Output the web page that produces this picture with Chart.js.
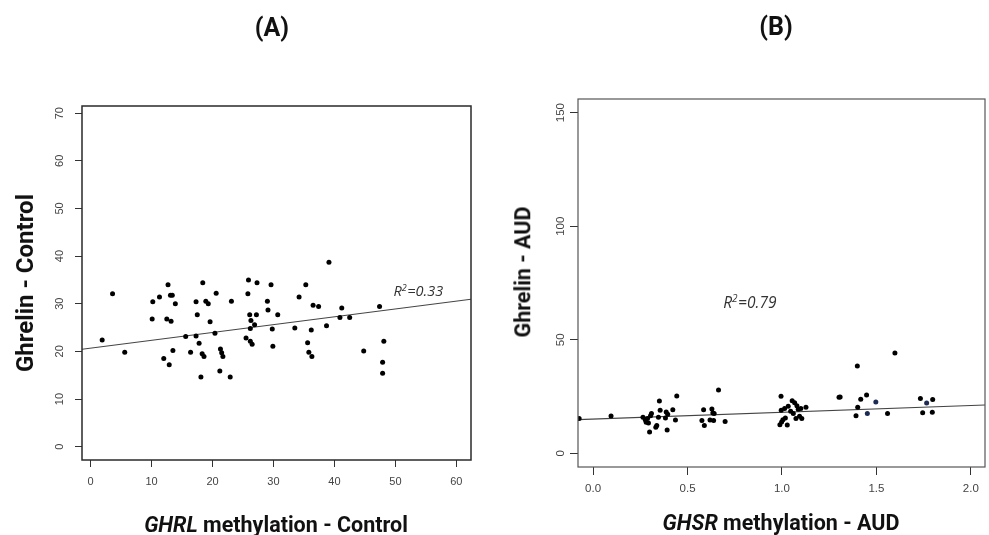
<!DOCTYPE html>
<html>
<head>
<meta charset="utf-8">
<script src="https://cdn.jsdelivr.net/npm/chart.js@4.4.1/dist/chart.umd.min.js"></script>
<style>
  body { margin: 0; background: #fff; }
  #fig { position: relative; width: 989px; height: 535px; overflow: hidden; font-family: Roboto, "Noto Sans", sans-serif; color: #111; }
  #fig canvas { position: absolute; top: 0; }
  .lbl { position: absolute; white-space: nowrap; font-weight: 700; line-height: 1; transform: translate(-50%, -50%); }
  .panel { font-size: 25px; }
  .axis { font-size: 21.5px; }
  .vert { transform: translate(-50%, -50%) rotate(-90deg); }
</style>
</head>
<body>
<div id="fig">
  <canvas id="chartA" width="494" height="535" style="left:0"></canvas>
  <canvas id="chartB" width="495" height="535" style="left:494px"></canvas>
  <div class="lbl panel" style="left:272px;top:27px">(A)</div>
  <div class="lbl panel" style="left:776px;top:26px">(B)</div>
  <div class="lbl axis" style="left:276px;top:525px"><i>GHRL</i> methylation - Control</div>
  <div class="lbl axis" style="left:781px;top:523px"><i>GHSR</i> methylation - AUD</div>
  <div class="lbl axis vert" style="left:25px;top:283px;font-size:24px">Ghrelin - Control</div>
  <div class="lbl axis vert" style="left:523px;top:272px">Ghrelin - AUD</div>
</div>
<script>
// (A) controls: GHRL methylation vs ghrelin
const ghrlMethControl = [1.9, 3.6, 5.6, 10.2, 10.1, 11.3, 12.0, 12.7, 12.5, 12.9, 13.1, 13.4, 13.2, 13.5, 13.9,
  15.6, 16.4, 17.3, 17.3, 17.5, 17.8, 18.1, 18.4, 18.3, 18.6, 18.9, 19.3, 19.6, 20.4, 20.6, 21.2, 21.3, 21.5,
  21.7, 22.9, 23.1, 25.5, 25.8, 25.9, 26.1, 26.2, 26.2, 26.3, 26.5, 26.9, 27.2, 27.3, 29.0, 29.1, 29.6, 29.8,
  29.9, 30.7, 33.5, 34.2, 35.3, 35.6, 35.8, 36.2, 36.3, 36.5, 37.4, 38.7, 39.1, 40.9, 41.2, 42.5, 44.8, 47.4,
  47.9, 47.9, 48.1];
const ghrelinControl = [22.4, 32.1, 19.8, 30.4, 26.8, 31.4, 18.5, 34.0, 26.8, 17.2, 31.8, 31.8, 26.3, 20.2, 30.0,
  23.1, 19.8, 30.4, 23.2, 27.7, 21.7, 14.6, 34.4, 19.5, 18.9, 30.5, 30.0, 26.2, 23.8, 32.2, 15.9, 20.5, 19.7,
  18.9, 14.6, 30.5, 22.8, 32.1, 35.0, 27.7, 24.8, 22.1, 26.5, 21.5, 25.6, 27.7, 34.4, 30.5, 28.7, 34.0, 24.7,
  21.1, 27.7, 24.9, 31.4, 34.0, 21.8, 19.8, 24.5, 18.9, 29.7, 29.4, 25.4, 38.7, 27.1, 29.1, 27.1, 20.1, 29.4,
  17.7, 15.4, 22.1];
const fitXControl = [-1.41, 62.4];
const fitYControl = [20.45, 30.94];
const xTicksControl = [0, 10, 20, 30, 40, 50, 60];
const yTicksControl = [0, 10, 20, 30, 40, 50, 60, 70];

// (B) AUD: GHSR methylation vs ghrelin
const ghsrMethAUD = [-0.074, 0.095, 0.264, 0.276, 0.281, 0.288, 0.293, 0.299, 0.304, 0.309, 0.332, 0.337, 0.346,
  0.351, 0.355, 0.383, 0.387, 0.392, 0.395, 0.422, 0.436, 0.443, 0.576, 0.585, 0.589, 0.619, 0.629, 0.634,
  0.638, 0.641, 0.664, 0.699, 0.989, 0.995, 0.996, 0.998, 1.005, 1.014, 1.018, 1.028, 1.033, 1.046, 1.054,
  1.060, 1.067, 1.074, 1.079, 1.086, 1.093, 1.100, 1.105, 1.127, 1.302, 1.308, 1.392, 1.399, 1.401, 1.417,
  1.448, 1.559, 1.598, 1.733, 1.745, 1.796, 1.798];
const ghrelinAUD = [15.3, 16.5, 15.9, 14.8, 13.7, 15.4, 13.4, 9.4, 16.6, 17.5, 11.5, 12.3, 15.9,
  23.1, 19.0, 15.6, 18.2, 10.3, 17.2, 19.2, 14.7, 25.3, 14.5, 19.2, 12.3, 14.7, 19.5, 17.8,
  14.5, 17.5, 27.9, 14.0, 12.6, 25.1, 19.0, 13.8, 14.8, 19.7, 15.6, 12.5, 20.7, 18.5, 23.2,
  17.5, 22.3, 15.4, 21.0, 19.4, 16.3, 19.7, 15.3, 20.3, 24.7, 24.8, 16.6, 38.5, 20.3, 23.8,
  25.7, 17.5, 44.2, 24.2, 17.9, 18.1, 23.7];
// three subjects plotted in navy
const ghsrMethAUDNavy = [1.452, 1.497, 1.766];
const ghrelinAUDNavy = [17.5, 22.6, 22.2];
const fitXAUD = [-0.08, 2.075];
const fitYAUD = [14.85, 21.3];
const xTicksAUD = [0, 0.5, 1.0, 1.5, 2.0];
const yTicksAUD = [0, 50, 100, 150];

const pts = (xs, ys) => xs.map((x, i) => ({ x: x, y: ys[i] }));

// frame around the plotting region plus the R² note
const framePlugin = {
  id: 'frame',
  afterDraw(chart, args, opts) {
    const { ctx, chartArea: a, scales } = chart;
    ctx.save();
    ctx.strokeStyle = opts.color;
    ctx.lineWidth = opts.width;
    ctx.strokeRect(a.left, a.top, a.right - a.left, a.bottom - a.top);
    const px = scales.x.getPixelForValue(opts.noteX);
    const py = scales.y.getPixelForValue(opts.noteY);
    ctx.fillStyle = '#333';
    ctx.textBaseline = 'alphabetic';
    ctx.font = 'italic ' + opts.noteSize + 'px "Open Sans"';
    ctx.fillText('R', px, py);
    let w = ctx.measureText('R').width;
    ctx.font = 'italic ' + Math.round(opts.noteSize * 0.62) + 'px "Open Sans"';
    ctx.fillText('2', px + w, py - opts.noteSize * 0.38);
    w += ctx.measureText('2').width + 0.5;
    ctx.font = 'italic ' + opts.noteSize + 'px "Open Sans"';
    ctx.fillText('=' + opts.noteText, px + w, py);
    ctx.restore();
  }
};

function makeChart(id, cfg) {
  const tickFont = { family: '"Liberation Sans", Arial, sans-serif', size: cfg.tickSize };
  const datasets = [
    { type: 'line', data: pts(cfg.fitX, cfg.fitY), borderColor: '#444', borderWidth: 1.1,
      pointRadius: 0, fill: false, order: 2 },
    { data: pts(cfg.x, cfg.y), backgroundColor: '#000', borderWidth: 0, pointRadius: 2.5, order: 1 }
  ];
  if (cfg.navyX) {
    datasets.push({ data: pts(cfg.navyX, cfg.navyY), backgroundColor: '#1c2b55', borderWidth: 0,
      pointRadius: 2.5, order: 0 });
  }
  return new Chart(document.getElementById(id), {
    type: 'scatter',
    data: { datasets: datasets },
    options: {
      responsive: false,
      animation: false,
      events: [],
      layout: { padding: { left: 0, top: cfg.area.top, right: cfg.area.right, bottom: 0 } },
      plugins: {
        legend: { display: false },
        tooltip: { enabled: false },
        frame: { color: cfg.frameColor, width: cfg.frameWidth, noteX: cfg.noteX, noteY: cfg.noteY,
          noteText: cfg.noteText, noteSize: cfg.noteSize }
      },
      scales: {
        x: {
          type: 'linear', min: cfg.xMin, max: cfg.xMax,
          afterBuildTicks: s => { s.ticks = cfg.xTicks.map(v => ({ value: v })); },
          afterFit: s => { s.height = cfg.area.xAxisH; },
          border: { display: false },
          grid: { drawOnChartArea: false, drawTicks: true, tickLength: cfg.tickLen, tickColor: '#333' },
          ticks: { font: tickFont, color: '#444', padding: cfg.xPad, maxRotation: 0,
            callback: v => cfg.xFmt(v) }
        },
        y: {
          type: 'linear', min: cfg.yMin, max: cfg.yMax,
          afterBuildTicks: s => { s.ticks = cfg.yTicks.map(v => ({ value: v })); },
          afterFit: s => { s.width = cfg.area.left; },
          border: { display: false },
          grid: { drawOnChartArea: false, drawTicks: true, tickLength: cfg.tickLen, tickColor: '#333' },
          ticks: { font: tickFont, color: '#444', padding: cfg.yPad, minRotation: 90, maxRotation: 90,
            crossAlign: 'center', callback: v => String(v) }
        }
      }
    },
    plugins: [framePlugin]
  });
}

makeChart('chartA', {
  x: ghrlMethControl, y: ghrelinControl, fitX: fitXControl, fitY: fitYControl,
  xMin: -1.41, xMax: 62.4, yMin: -2.8, yMax: 71.5,
  xTicks: xTicksControl, yTicks: yTicksControl, xFmt: v => String(v),
  area: { left: 82, top: 106, right: 23, xAxisH: 75 },
  tickSize: 11, tickLen: 7, xPad: 8, yPad: 9,
  frameColor: '#2a2a2a', frameWidth: 1.5,
  noteX: 49.7, noteY: 31.6, noteText: '0.33', noteSize: 14.5
});

makeChart('chartB', {
  x: ghsrMethAUD, y: ghrelinAUD, navyX: ghsrMethAUDNavy, navyY: ghrelinAUDNavy,
  fitX: fitXAUD, fitY: fitYAUD,
  xMin: -0.08, xMax: 2.075, yMin: -6, yMax: 156,
  xTicks: xTicksAUD, yTicks: yTicksAUD, xFmt: v => v.toFixed(1),
  area: { left: 84, top: 99, right: 3, xAxisH: 68 },
  tickSize: 11.5, tickLen: 8, xPad: 7, yPad: 0,
  frameColor: '#555', frameWidth: 1.2,
  noteX: 0.689, noteY: 64.2, noteText: '0.79', noteSize: 15.5
});
</script>
</body>
</html>
